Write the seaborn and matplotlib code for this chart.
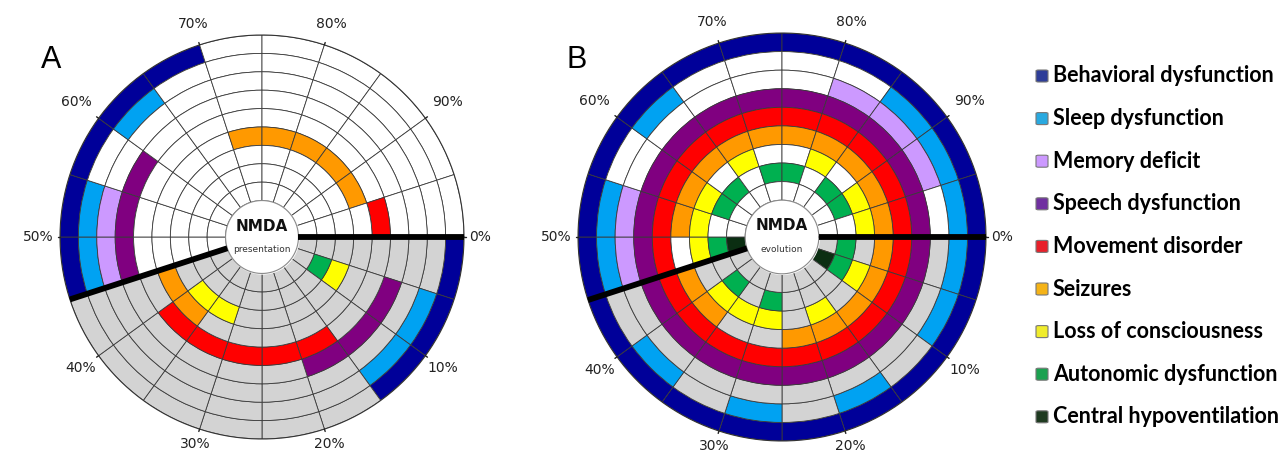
import numpy as np
import matplotlib
matplotlib.use("Agg")
import matplotlib.pyplot as plt
import seaborn as sns
from matplotlib.patches import FancyBboxPatch

sns.set_theme(style="white")
plt.rcParams['font.family'] = ['DejaVu Sans']

# ---------------- data ----------------
symptoms = ["Behavioral dysfunction", "Sleep dysfunction", "Memory deficit",
            "Speech dysfunction", "Movement disorder", "Seizures",
            "Loss of consciousness", "Autonomic dysfunction", "Central hypoventilation"]
ring_colors = ["#000099", "#00A2F2", "#CC99FF", "#800080", "#FF0000",
               "#FF9900", "#FFFF00", "#00B050", "#0B2E12"]
legend_colors = ["#2E3D98", "#29A9E0", "#CC99FF", "#7030A0", "#E8202A",
                 "#F5B317", "#F0EC2C", "#1BA150", "#1E3A20"]
tick_labels = ["0%", "10%", "20%", "30%", "40%", "50%", "60%", "70%", "80%", "90%"]
cell_pct = 5                 # each cell spans 5 % of the circle
gray_span = [0, 45]          # shaded (grey) part of each panel, in %

# start (%) of every coloured cell, per symptom -- panel A (presentation)
pres_behavioral = [0, 5, 10, 45, 50, 55, 60, 65]
pres_sleep = [5, 10, 45, 50, 60]
pres_memory = [45, 50]
pres_speech = [5, 10, 15, 45, 50, 55]
pres_movement = [15, 20, 25, 30, 35, 95]
pres_seizures = [35, 40, 70, 75, 80, 85, 90]
pres_consciousness = [5, 30, 35]
pres_autonomic = [5]
pres_hypovent = []

# panel B (evolution)
evol_behavioral = [0, 5, 10, 15, 20, 25, 30, 35, 40, 45, 50, 55, 60, 65, 70, 75, 80, 85, 90, 95]
evol_sleep = [0, 5, 15, 25, 35, 45, 50, 60, 85, 90, 95]
evol_memory = [45, 50, 80, 85, 90]
evol_speech = [0, 5, 10, 15, 20, 25, 30, 35, 40, 45, 50, 55, 60, 65, 70, 75, 80, 85, 90, 95]
evol_movement = [0, 5, 10, 15, 20, 25, 30, 35, 40, 45, 50, 55, 60, 65, 70, 75, 80, 85, 90, 95]
evol_seizures = [0, 5, 10, 15, 20, 35, 40, 50, 55, 60, 65, 70, 75, 80, 85, 90, 95]
evol_consciousness = [5, 15, 25, 30, 35, 45, 50, 55, 65, 80, 90, 95]
evol_autonomic = [0, 5, 25, 35, 45, 55, 60, 70, 75, 85, 90]
evol_hypovent = [5, 45]

presentation = [pres_behavioral, pres_sleep, pres_memory, pres_speech, pres_movement,
                pres_seizures, pres_consciousness, pres_autonomic, pres_hypovent]
evolution = [evol_behavioral, evol_sleep, evol_memory, evol_speech, evol_movement,
             evol_seizures, evol_consciousness, evol_autonomic, evol_hypovent]

# ---------------- drawing ----------------
W, H = 1285, 457
fig = plt.figure(figsize=(W / 100, H / 100), dpi=100)

HOLE = 37.0
ROUT = 205.0
NR = len(symptoms)
ring_h = (ROUT - HOLE) / NR
GRAY = "#D3D3D3"
EDGE = "#3a3a3a"


def pct2rad(p):
    return np.deg2rad(p * 3.6)


def draw_panel(rect, cells, subtitle):
    ax = fig.add_axes(rect, projection="polar")
    ax.set_theta_zero_location("E")
    ax.set_theta_direction(-1)
    ax.set_ylim(0, ROUT)
    ax.set_axis_off()
    n_cells = int(100 / cell_pct)
    for ring_idx in range(NR):
        # ring 0 (behavioral) is the outermost
        bottom = HOLE + (NR - 1 - ring_idx) * ring_h
        colored = set(cells[ring_idx])
        for k in range(n_cells):
            start = k * cell_pct
            if start in colored:
                c = ring_colors[ring_idx]
            elif gray_span[0] <= start < gray_span[1]:
                c = GRAY
            else:
                c = "white"
            ax.bar(pct2rad(start + cell_pct / 2), ring_h, width=pct2rad(cell_pct),
                   bottom=bottom, color=c, edgecolor=EDGE, linewidth=0.6, align="center")
    th = np.linspace(0, 2 * np.pi, 500)
    ax.fill_between(th, 0, HOLE, color="white", zorder=3)
    ax.plot(th, np.full_like(th, HOLE), color="#8a8a8a", lw=0.8, zorder=4)
    ax.plot(th, np.full_like(th, ROUT), color="#333333", lw=0.8, zorder=4, clip_on=False)
    # separators
    for p in gray_span:
        ax.plot([pct2rad(p)] * 2, [HOLE, ROUT], color="black", lw=4.2,
                solid_capstyle="butt", zorder=5, clip_on=False)
    # ticks and labels (placed just outside the rim)
    for i, lab in enumerate(tick_labels):
        t = pct2rad(i * 10)
        ax.plot([t, t], [ROUT, ROUT + 2.5], color="#222222", lw=1.0, clip_on=False, zorder=5)
        ang = -t  # screen angle (counter-clockwise)
        halfw = 5.2 * len(lab) + 1
        halfh = 6.0
        gap = 11 if np.sin(ang) > 0.2 else 5
        r_lab = ROUT + gap + abs(np.cos(ang)) * halfw + abs(np.sin(ang)) * halfh
        ax.text(t, r_lab, lab, ha="center", va="center", fontsize=10,
                color="#222222", clip_on=False)
    ax.text(0.5, 0.527, "NMDA", transform=ax.transAxes, ha="center", va="center",
            fontsize=11, fontweight="bold", color="#111111", zorder=6)
    ax.text(0.5, 0.47, subtitle, transform=ax.transAxes, ha="center", va="center",
            fontsize=6.5, color="#333333", zorder=6)
    return ax


def px_rect(cx, cy, r):
    return [(cx - r) / W, (H - cy - r) / H, 2 * r / W, 2 * r / H]


draw_panel(px_rect(262, 237, 202), presentation, "presentation")
draw_panel(px_rect(782, 237, 204), evolution, "evolution")

fig.text(51 / W, 1 - 60 / H, "A", fontsize=22, family="Liberation Sans",
         ha="center", va="center", color="black")
fig.text(577 / W, 1 - 60 / H, "B", fontsize=22, family="Liberation Sans",
         ha="center", va="center", color="black")

# legend
y0, dy = 76, 42.6
for i, (name, col) in enumerate(zip(symptoms, legend_colors)):
    yc = y0 + i * dy
    sq = FancyBboxPatch((1036 / W, 1 - (yc + 6) / H), 12 / W, 12 / H,
                        boxstyle="round,pad=0,rounding_size=0.002",
                        transform=fig.transFigure, facecolor=col,
                        edgecolor="#777777", linewidth=0.8)
    fig.patches.append(sq)
    fig.text(1053 / W, 1 - yc / H, name, fontsize=15.5, fontweight="bold",
             family="Lato", ha="left", va="center", color="black")

fig.savefig("out.png", dpi=100)
